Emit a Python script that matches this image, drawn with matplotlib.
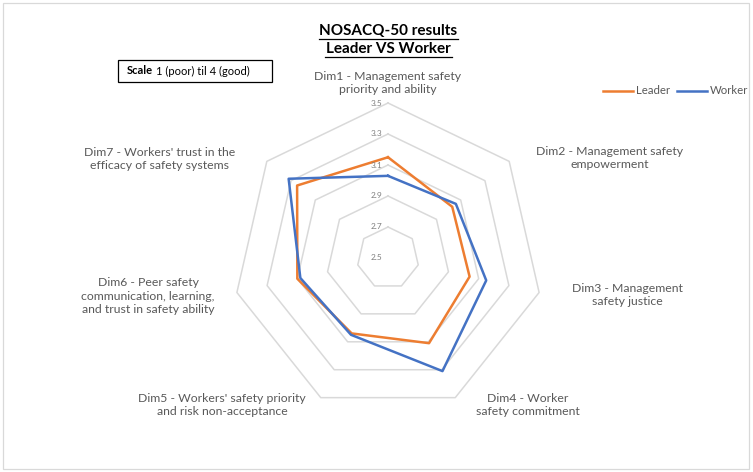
import numpy as np
import matplotlib
matplotlib.use("Agg")
import matplotlib.pyplot as plt
from matplotlib.patches import Rectangle
from matplotlib.transforms import ScaledTranslation

# NOSACQ-50 dimension scores
dims = ["Dim1 - Management safety\npriority and ability",
        "Dim2 - Management safety\nempowerment",
        "Dim3 - Management\nsafety justice",
        "Dim4 - Worker\nsafety commitment",
        "Dim5 - Workers' safety priority\nand risk non-acceptance",
        "Dim6 - Peer safety\ncommunication, learning,\nand trust in safety ability",
        "Dim7 - Workers' trust in the\nefficacy of safety systems"]
leader = [3.15, 3.03, 3.04, 3.11, 3.04, 3.10, 3.25]
worker = [3.03, 3.06, 3.15, 3.31, 3.05, 3.08, 3.32]
rings = [2.7, 2.9, 3.1, 3.3, 3.5]
tick_vals = [2.5, 2.7, 2.9, 3.1, 3.3, 3.5]

W, H = 753, 472
cx, cy, R = 388, 258, 155
plt.rcParams['font.family'] = ['Lato', 'DejaVu Sans']

fig = plt.figure(figsize=(W / 100, H / 100), dpi=100)
ax = fig.add_axes([(cx - R) / W, (H - cy - R) / H, 2 * R / W, 2 * R / H], projection='polar')
ax.set_theta_offset(np.pi / 2)
ax.set_theta_direction(-1)
ax.set_ylim(2.5, 3.5)
ax.grid(False)
ax.set_xticks([])
ax.set_yticks([])
ax.spines['polar'].set_visible(False)
ax.patch.set_alpha(0)

n = len(dims)
ang = np.linspace(0, 2 * np.pi, n, endpoint=False)
ang_c = np.append(ang, ang[0])

for r in rings:
    ax.plot(ang_c, [r] * (n + 1), color='#d9d9d9', lw=1.1, zorder=1, clip_on=False)

ax.plot(ang_c, leader + leader[:1], color='#ed7d31', lw=1.8, zorder=3, clip_on=False, label='Leader')
ax.plot(ang_c, worker + worker[:1], color='#4472c4', lw=1.8, zorder=3, clip_on=False, label='Worker')

shift = ax.transData + ScaledTranslation(-4 / 72, 0, fig.dpi_scale_trans)
for v in tick_vals:
    ax.text(0, v, f"{v:.1f}", ha='right', va='center', fontsize=6, color='#7f7f7f',
            transform=shift)

# category labels (pixel positions)
label_pos = [(388, 83), (610, 158), (627, 295), (528, 405), (222, 405), (148, 296), (160, 159)]
for txt, (x, y) in zip(dims, label_pos):
    fig.text(x / W, 1 - y / H, txt, ha='center', va='center', fontsize=8.8, color='#595959',
             linespacing=1.3)

fig.text(388 / W, 1 - 31 / H, "NOSACQ-50 results", ha='center', va='center',
         fontsize=11, fontweight='bold', color='black')
fig.text(388 / W, 1 - 49 / H, "Leader VS Worker", ha='center', va='center',
         fontsize=11, fontweight='bold', color='black')
for y, x0, x1 in ((39, 319, 458), (57, 325, 452)):
    fig.add_artist(plt.Line2D([x0 / W, x1 / W], [1 - y / H] * 2, color='black', lw=0.9))

# scale note box
fig.add_artist(Rectangle((118 / W, 1 - 82 / H), 154 / W, 22 / H, fill=False,
                         edgecolor='black', lw=0.9, transform=fig.transFigure))
fig.text(127 / W, 1 - 71 / H, "Scale", ha='left', va='center', fontsize=8, fontweight='bold')
fig.text(156 / W, 1 - 71 / H, "1 (poor) til 4 (good)", ha='left', va='center', fontsize=8)

# outer chart frame
fig.add_artist(Rectangle((3 / W, 3 / H), 746 / W, 466 / H, fill=False,
                         edgecolor='#d9d9d9', lw=0.9, transform=fig.transFigure))

fig.legend(loc='center', bbox_to_anchor=(676 / W, 1 - 91 / H), ncol=2, frameon=False,
           fontsize=8.2, handlelength=2.6, columnspacing=0.6, handletextpad=0.3,
           labelcolor='#595959')

fig.savefig("out.png", dpi=100)
